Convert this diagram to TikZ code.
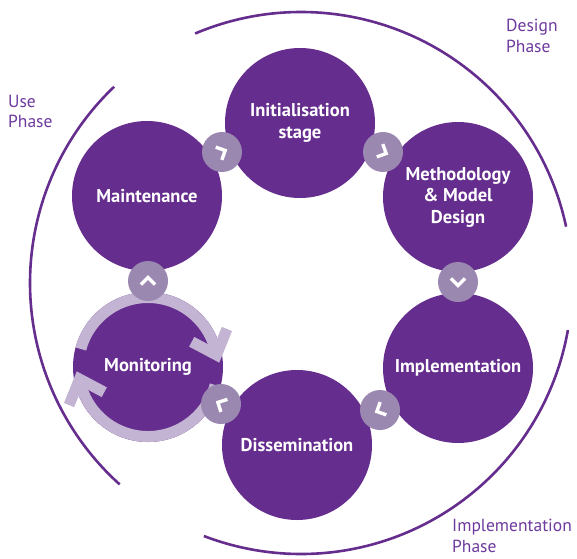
\documentclass[tikz,border=0pt]{standalone}
\usepackage{fontspec}
\setmainfont{PT Sans}
\usetikzlibrary{calc}
\definecolor{mainpurple}{HTML}{652D8E}
\definecolor{ringlav}{HTML}{C2B4D2}
\definecolor{connlav}{HTML}{9B88B0}
\definecolor{phasetxt}{HTML}{6E3A9E}
\begin{document}
\begin{tikzpicture}[x=1pt,y=1pt,
  bigc/.style={circle, fill=mainpurple, minimum size=150pt, inner sep=0pt, text=white,
    font=\fontsize{18.5}{21.5}\selectfont\bfseries, align=center},
  conn/.style={circle, fill=connlav, minimum size=40pt, inner sep=0pt},
  chev/.style={white, line width=3.4pt, line cap=butt, line join=miter},
  phasearc/.style={mainpurple, line width=2.6pt},
  ringarc/.style={ringlav, line width=11pt},
  phaselbl/.style={text=phasetxt, font=\fontsize{17.5}{20.5}\selectfont, align=left, inner sep=0pt, anchor=north west}]
\useasboundingbox (0,0) rectangle (577,558);
\coordinate (hub) at (301,275);
% phase arcs
\draw[phasearc] ([shift={(113:271pt)}]hub) arc[start angle=113, end angle=12, radius=271pt];
\draw[phasearc] ([shift={(-10:271pt)}]hub) arc[start angle=-10, end angle=-111, radius=271pt];
\draw[phasearc] ([shift={(133.6:271pt)}]hub) arc[start angle=133.6, end angle=228, radius=271pt];
% stage circles
\node[bigc] (init) at (300,435) {Initialisation\\stage};
\node[bigc] (meth) at (458,361) {Methodology\\\& Model\\Design};
\node[bigc] (impl) at (458,190) {Implementation};
\node[bigc] (diss) at (297,113) {Dissemination};
\node[bigc] (mon) at (148,191) {Monitoring};
\node[bigc] (maint) at (147,362) {Maintenance};
% monitoring cycle ring
\draw[ringarc] ([shift={(-15:69.5pt)}]mon.center) arc[start angle=-15, end angle=-170, radius=69.5pt];
\draw[ringarc] ([shift={(165:69.5pt)}]mon.center) arc[start angle=165, end angle=10, radius=69.5pt];
\coordinate (ra) at ([shift={(10:69.5pt)}]mon.center);
\coordinate (la) at ([shift={(190:69.5pt)}]mon.center);
\draw[ringarc, line join=miter] ([shift={(68:28pt)}]ra) -- (ra) -- ([shift={(152:28pt)}]ra);
\draw[ringarc, line join=miter] ([shift={(248:28pt)}]la) -- (la) -- ([shift={(332:28pt)}]la);
% connectors
\node[conn] (c1) at (222,406) {};
\node[conn] (c2) at (383,406) {};
\node[conn] (c3) at (458,276) {};
\node[conn] (c4) at (380,148) {};
\node[conn] (c5) at (221,154) {};
\node[conn] (c6) at (148,277) {};
\foreach \c/\a in {c1/25.5, c2/-25, c3/-90, c4/205.6, c5/152.4, c6/90} {
  \coordinate (tip) at ([shift={(\a:3.5pt)}]\c.center);
  \draw[chev] ([shift={({\a+135}:10pt)}]tip) -- (tip) -- ([shift={({\a-135}:10pt)}]tip);
}
% phase labels
\node[phaselbl] (design) at (506,539) {Design\\Phase};
\node[phaselbl] (use) at (8,463) {Use\\Phase};
\node[phaselbl] (implph) at (452,39) {Implementation\\Phase};
\end{tikzpicture}
\end{document}
